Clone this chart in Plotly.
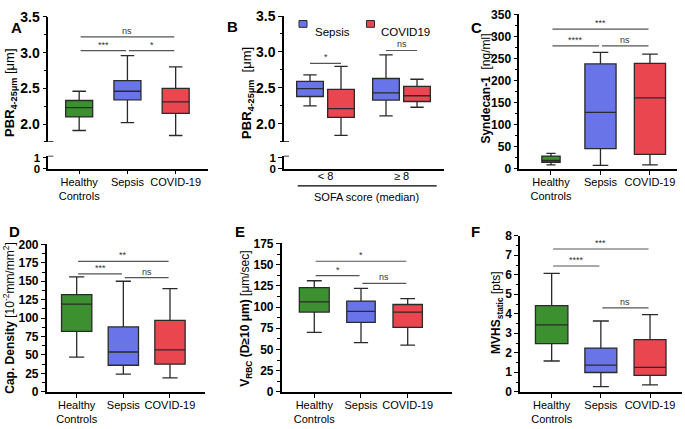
import plotly.graph_objects as go

W, H = 685, 429
def px(x): return x / W
def py(y): return 1 - y / H

FONT = "Liberation Sans"
GREEN = "#3d9030"
BLUE = "#6874e8"
RED = "#e9464f"
EDGE = "#2a2a2a"
SIG = "#555555"

# ---------------- data ----------------
groups = ["Healthy<br>Controls", "Sepsis", "COVID-19"]
colors = [GREEN, BLUE, RED]

# A: PBR 4-25 um
pbr_lower = [1.91, 2.02, 1.84]
pbr_q1 = [2.10, 2.34, 2.15]
pbr_median = [2.23, 2.46, 2.31]
pbr_q3 = [2.33, 2.61, 2.50]
pbr_upper = [2.46, 2.96, 2.80]

# B: PBR by SOFA score
sofa_groups = ["< 8", "≥ 8"]
sofa_sepsis_lower = [2.25, 2.11]
sofa_sepsis_q1 = [2.38, 2.33]
sofa_sepsis_median = [2.49, 2.43]
sofa_sepsis_q3 = [2.59, 2.63]
sofa_sepsis_upper = [2.68, 2.96]
sofa_covid_lower = [1.84, 2.23]
sofa_covid_q1 = [2.09, 2.31]
sofa_covid_median = [2.21, 2.39]
sofa_covid_q3 = [2.48, 2.52]
sofa_covid_upper = [2.80, 2.62]

# C: Syndecan-1
syn_lower = [9, 8, 9]
syn_q1 = [15, 46, 33]
syn_median = [19, 128, 161]
syn_q3 = [29, 238, 239]
syn_upper = [35, 264, 260]

# D: capillary density
cap_lower = [47, 24, 19]
cap_q1 = [82, 36, 37.5]
cap_median = [119, 54, 57]
cap_q3 = [132, 88, 97]
cap_upper = [156, 150, 140]

# E: V_RBC
vrbc_lower = [70, 58, 55]
vrbc_q1 = [94, 82, 76]
vrbc_median = [106, 95, 94]
vrbc_q3 = [123, 107, 103]
vrbc_upper = [131, 122, 110]

# F: MVHS static
mvhs_lower = [1.58, 0.26, 0.35]
mvhs_q1 = [2.47, 0.99, 0.84]
mvhs_median = [3.43, 1.37, 1.25]
mvhs_q3 = [4.42, 2.24, 2.67]
mvhs_upper = [6.07, 3.63, 3.96]

# significance brackets: (from group, to group, level, label)
sig_A = [(0, 1, 3.03, "***"), (1, 2, 3.03, "*"), (0, 2, 3.22, "ns")]
sig_B = [(0, 2.84, "*"), (1, 3.02, "ns")]
sig_C = [(0, 1, 279, "****"), (1, 2, 279, "ns"), (0, 2, 317, "***")]
sig_D = [(0, 1, 160, "***"), (1, 2, 155, "ns"), (0, 2, 177, "**")]
sig_E = [(0, 1, 137, "*"), (1, 2, 128, "ns"), (0, 2, 154, "*")]
sig_F = [(0, 1, 6.45, "****"), (1, 2, 4.30, "ns"), (0, 2, 7.32, "***")]

BOXGAP = 0.184
BOXGROUPGAP = 0.14

fig = go.Figure()
shapes = []
annotations = []

def add_boxes(xa, ya, lower, q1, med, q3, upper, widths):
    for i, g in enumerate(groups):
        fig.add_trace(go.Box(
            x=[g], lowerfence=[lower[i]], q1=[q1[i]], median=[med[i]],
            q3=[q3[i]], upperfence=[upper[i]],
            xaxis=xa, yaxis=ya, width=widths[i],
            fillcolor=colors[i], line=dict(color=EDGE, width=1.3),
            whiskerwidth=0.5, boxpoints=False, showlegend=False,
            name=g.replace("<br>", " "), hoverinfo="skip"))

def add_sig(xa, ya, sigs, fs=9):
    for (i, j, lvl, lab) in sigs:
        shapes.append(dict(type="line", xref=xa, yref=ya, x0=i + 0.03, x1=j - 0.03,
                           y0=lvl, y1=lvl, line=dict(color=SIG, width=1.2)))
        annotations.append(dict(xref=xa, yref=ya, x=(i + j) / 2, y=lvl, text=lab,
                                showarrow=False, yanchor="bottom", yshift=-1,
                                font=dict(family=FONT, size=fs, color="#333")))

add_boxes("x", "y", pbr_lower, pbr_q1, pbr_median, pbr_q3, pbr_upper, [0.56, 0.56, 0.56])
add_boxes("x3", "y5", syn_lower, syn_q1, syn_median, syn_q3, syn_upper, [0.37, 0.63, 0.63])
add_boxes("x4", "y6", cap_lower, cap_q1, cap_median, cap_q3, cap_upper, [0.65, 0.65, 0.65])
add_boxes("x5", "y7", vrbc_lower, vrbc_q1, vrbc_median, vrbc_q3, vrbc_upper, [0.64, 0.61, 0.63])
add_boxes("x6", "y8", mvhs_lower, mvhs_q1, mvhs_median, mvhs_q3, mvhs_upper, [0.66, 0.65, 0.65])

# B grouped boxes
fig.add_trace(go.Box(
    x=sofa_groups, lowerfence=sofa_sepsis_lower, q1=sofa_sepsis_q1,
    median=sofa_sepsis_median, q3=sofa_sepsis_q3, upperfence=sofa_sepsis_upper,
    xaxis="x2", yaxis="y3", offsetgroup="sepsis", alignmentgroup="B",
    fillcolor=BLUE, line=dict(color=EDGE, width=1.3), whiskerwidth=0.5,
    boxpoints=False, showlegend=False, name="Sepsis", hoverinfo="skip"))
fig.add_trace(go.Box(
    x=sofa_groups, lowerfence=sofa_covid_lower, q1=sofa_covid_q1,
    median=sofa_covid_median, q3=sofa_covid_q3, upperfence=sofa_covid_upper,
    xaxis="x2", yaxis="y3", offsetgroup="covid", alignmentgroup="B",
    fillcolor=RED, line=dict(color=EDGE, width=1.3), whiskerwidth=0.5,
    boxpoints=False, showlegend=False, name="COVID19", hoverinfo="skip"))

# empty traces so that the lower (broken) axis segments exist
fig.add_trace(go.Scatter(x=[], y=[], xaxis="x", yaxis="y2", showlegend=False, hoverinfo="skip"))
fig.add_trace(go.Scatter(x=[], y=[], xaxis="x2", yaxis="y4", showlegend=False, hoverinfo="skip"))

add_sig("x", "y", sig_A)
add_sig("x3", "y5", sig_C)
add_sig("x4", "y6", sig_D)
add_sig("x5", "y7", sig_E)
add_sig("x6", "y8", sig_F)

# B brackets between the two boxes within a SOFA group
off = (1 - BOXGAP) / 4
for (k, lvl, lab) in sig_B:
    shapes.append(dict(type="line", xref="x2", yref="y3", x0=k - off, x1=k + off,
                       y0=lvl, y1=lvl, line=dict(color=SIG, width=1.2)))
    annotations.append(dict(xref="x2", yref="y3", x=k, y=lvl, text=lab, showarrow=False,
                            yanchor="bottom", yshift=-1,
                            font=dict(family=FONT, size=9, color="#333")))

# ---------------- axes ----------------
def yax(domain, rng, dtick, minor, anchor, size=12, tickvals=None, fmt=None):
    d = dict(domain=domain, range=rng, anchor=anchor, showline=True, linecolor="black",
             linewidth=1.5, ticks="outside", ticklen=4, tickwidth=1.4, tickcolor="black",
             showgrid=False, zeroline=False, tickprefix="<b>", ticksuffix="</b>",
             tickfont=dict(family=FONT, size=size, color="black", weight="bold"))
    if fmt:
        d["tickformat"] = fmt
    if tickvals is not None:
        d["tickvals"] = tickvals
    else:
        d["dtick"] = dtick
        d["tick0"] = 0
    if minor:
        d["minor"] = dict(ticks="outside", ticklen=2.5, tickwidth=1.2, tickcolor="black",
                          dtick=minor, tick0=0, showgrid=False)
    return d

def xax(domain, rng, anchor, cats, showticks=True, standoff=-2):
    return dict(domain=domain, range=rng, anchor=anchor, type="category",
                categoryorder="array", categoryarray=cats,
                showline=True, linecolor="black", linewidth=1.5, ticks="outside",
                ticklen=4, tickwidth=1.4, ticklabelstandoff=standoff,
                tickcolor="black" if showticks else "rgba(0,0,0,0)",
                showgrid=False, zeroline=False,
                tickfont=dict(family=FONT, size=11, color="black"))

layout = dict(
    width=W, height=H, margin=dict(l=0, r=0, t=0, b=0),
    paper_bgcolor="white", plot_bgcolor="white",
    boxmode="group", boxgap=BOXGAP, boxgroupgap=BOXGROUPGAP,
    showlegend=False,
    xaxis=xax([px(48.3), px(208)], [-0.64, 2.67], "y2", groups),
    yaxis=yax([py(138.8), py(9.3)], [1.75, 3.5], 0.5, 0.25, "x", size=14, fmt=".1f"),
    yaxis2=yax([py(166.5), py(153.2)], [0, 1.2], None, None, "x", size=11.5, tickvals=[0, 1]),
    xaxis2=xax([px(284), px(444)], [-0.546, 1.559], "y4", sofa_groups, showticks=False,
               standoff=-8),
    yaxis3=yax([py(138.6), py(8.3)], [1.75, 3.5], 0.5, 0.25, "x2", size=14, fmt=".1f"),
    yaxis4=yax([py(166.5), py(153.2)], [0, 1.2], None, None, "x2", size=11.5, tickvals=[0, 1]),
    xaxis3=xax([px(519.3), px(676.7)], [-0.64, 2.54], "y5", groups),
    yaxis5=yax([py(166.7), py(6.7)], [0, 350], 50, 25, "x3"),
    xaxis4=xax([px(46.7), px(205.3)], [-0.643, 2.757], "y6", groups),
    yaxis6=yax([py(397.7), py(245)], [0, 200], 25, 12.5, "x4"),
    xaxis5=xax([px(281.7), px(452)], [-0.698, 2.949], "y7", groups),
    yaxis7=yax([py(397.7), py(244)], [0, 175], 25, 12.5, "x5"),
    xaxis6=xax([px(520), px(681.7)], [-0.644, 2.644], "y8", groups),
    yaxis8=yax([py(397.7), py(236)], [0, 8], 1, 0.5, "x6"),
)

# axis-break caps (A and B)
for xa, yu, yl, x_lo in [("x", "y", "y2", -0.64), ("x2", "y3", "y4", -0.546)]:
    shapes.append(dict(type="line", xref=xa, yref=yu, xsizemode="pixel", xanchor=x_lo,
                       x0=-5, x1=5, y0=1.75, y1=1.75, line=dict(color="black", width=1.5)))
    shapes.append(dict(type="line", xref=xa, yref=yl, xsizemode="pixel", xanchor=x_lo,
                       x0=-5, x1=5, y0=1.2, y1=1.2, line=dict(color="black", width=1.5)))

# B: group bracket and title under the x axis
shapes.append(dict(type="line", xref="paper", yref="paper", x0=px(297.7), x1=px(436.7),
                   y0=py(184.3), y1=py(184.3), line=dict(color="black", width=1.3)))
annotations.append(dict(xref="paper", yref="paper", x=px(366.7), y=py(195.5),
                        text="SOFA score (median)", showarrow=False,
                        font=dict(family=FONT, size=11, color="black")))

# B legend (manual)
for (xs, xt, lab, col) in [(303, 313, "Sepsis", BLUE), (370.5, 379, "COVID19", RED)]:
    shapes.append(dict(type="rect", xref="paper", yref="paper",
                       x0=px(xs - 4), x1=px(xs + 4), y0=py(20), y1=py(13),
                       fillcolor=col, line=dict(color=EDGE, width=1)))
    annotations.append(dict(xref="paper", yref="paper", x=px(xt), y=py(16.7), text=lab,
                            xanchor="left", showarrow=False,
                            font=dict(family=FONT, size=11.5, color="black")))

# panel letters
for (lx, ly, lab) in [(9, 9, "A"), (232, 8.5, "B"), (484, 9, "C"),
                      (7, 232, "D"), (240, 232, "E"), (482, 232, "F")]:
    annotations.append(dict(xref="paper", yref="paper", x=px(lx), y=py(ly), text="<b>%s</b>" % lab,
                            showarrow=False, font=dict(family=FONT, size=15, color="black")))

# y-axis titles
ytitles = [
    (11, 88, "<b>PBR<sub>4-25μm</sub></b> [μm]", 13),
    (248, 88, "<b>PBR<sub>4-25μm</sub></b>  [μm]", 13),
    (486.5, 84, "<b>Syndecan-1</b>  [ng/ml]", 12),
    (9, 321, "<b>Cap. Density</b> [10<sup>-2</sup>mm/mm<sup>2</sup>]", 12),
    (246, 322, "<b>V<sub>RBC</sub> (D≥10 μm)</b> [μm/sec]", 12),
    (497, 316, "<b>MVHS<sub>static</sub></b> [pts]", 12),
]
for (tx, ty, txt, fs) in ytitles:
    annotations.append(dict(xref="paper", yref="paper", x=px(tx), y=py(ty), text=txt,
                            textangle=-90, showarrow=False, xanchor="center", yanchor="middle",
                            font=dict(family=FONT, size=fs, color="black")))

layout["shapes"] = shapes
layout["annotations"] = annotations
fig.update_layout(**layout)
fig.write_html("out.html", config={"displayModeBar": False},
               post_script="document.body.style.margin='0px';document.body.style.overflow='hidden';")
